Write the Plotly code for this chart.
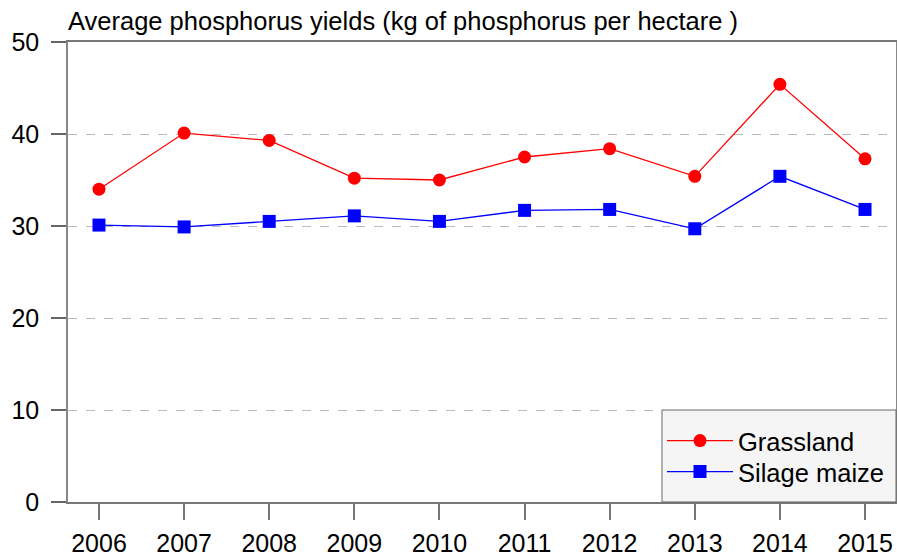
import plotly.graph_objects as go

years = [2006, 2007, 2008, 2009, 2010, 2011, 2012, 2013, 2014, 2015]
grassland = [34.0, 40.1, 39.3, 35.2, 35.0, 37.5, 38.4, 35.4, 45.4, 37.3]
silage_maize = [30.1, 29.9, 30.5, 31.1, 30.5, 31.7, 31.8, 29.7, 35.4, 31.8]
y_ticks = [0, 10, 20, 30, 40, 50]
title_text = "Average phosphorus yields (kg of phosphorus per hectare )"

FONT = "Liberation Sans, Arial, sans-serif"

fig = go.Figure()
fig.add_trace(go.Scatter(
    x=years, y=grassland, name="Grassland", mode="lines+markers",
    line=dict(color="#ff0000", width=1.3),
    marker=dict(symbol="circle", size=13, color="#ff0000"),
    legend="legend",
))
fig.add_trace(go.Scatter(
    x=years, y=silage_maize, name="Silage maize", mode="lines+markers",
    line=dict(color="#0000ff", width=1.3),
    marker=dict(symbol="square", size=13, color="#0000ff"),
    legend="legend2",
))

# legend frame (style element)
fig.add_shape(
    type="rect", xref="paper", yref="paper",
    x0=0.7174, x1=1.0, y0=0.0, y1=0.2,
    fillcolor="#f5f5f5", line=dict(color="#666666", width=1), layer="above",
)

leg_common = dict(
    xanchor="left", yanchor="middle",
    bgcolor="rgba(0,0,0,0)", borderwidth=0,
    font=dict(size=25.5, family=FONT, color="black"),
    itemwidth=66,
)

fig.update_layout(
    width=897, height=559,
    margin=dict(l=68, r=1, t=42, b=57, autoexpand=False),
    paper_bgcolor="white", plot_bgcolor="white",
    font=dict(family=FONT, size=25, color="black"),
    showlegend=True,
    legend=dict(x=0.7174, y=0.1326, **leg_common),
    legend2=dict(x=0.7174, y=0.0652, **leg_common),
    annotations=[dict(
        text=title_text, xref="paper", yref="paper", x=0, y=1,
        xanchor="left", yanchor="bottom", showarrow=False,
        font=dict(size=25.5, family=FONT, color="black"), yshift=5, xshift=-2,
    )],
)

fig.update_xaxes(
    range=[2005.636, 2015.364], automargin=False,
    tickmode="array", tickvals=years, ticktext=[str(y) for y in years],
    ticks="outside", ticklen=16, tickwidth=1.5, tickcolor="#777777",
    showline=True, linecolor="#777777", linewidth=1.5, mirror=True,
    showgrid=False, zeroline=False,
    ticklabelstandoff=2,
    tickfont=dict(size=25, family=FONT, color="black"),
)
fig.update_yaxes(
    range=[0, 50], automargin=False,
    tickmode="array", tickvals=y_ticks, ticktext=[str(v) for v in y_ticks],
    ticks="outside", ticklen=15, tickwidth=1.5, tickcolor="#666666",
    showline=True, linecolor="#888888", linewidth=1.5, mirror=True,
    showgrid=True, gridcolor="#bbbbbb", griddash="dash", gridwidth=1,
    zeroline=False,
    ticklabelstandoff=7,
    tickfont=dict(size=25, family=FONT, color="black"),
)

fig.write_html(
    "out.html",
    config={"displayModeBar": False},
    post_script="document.body.style.margin='0';document.body.style.overflow='hidden';",
)
